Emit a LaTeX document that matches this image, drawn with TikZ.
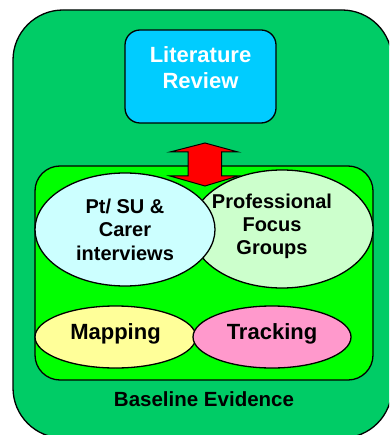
\documentclass[tikz,border=0pt]{standalone}
\usepackage{fontspec}
\setmainfont{Liberation Sans}
\usetikzlibrary{shapes.geometric}
\definecolor{outergreen}{HTML}{00CC66}
\definecolor{innergreen}{HTML}{00FF00}
\definecolor{litblue}{HTML}{00CCFF}
\definecolor{ptcyan}{HTML}{CCFFFF}
\definecolor{profgreen}{HTML}{CCFFCC}
\definecolor{mapyellow}{HTML}{FFFF99}
\definecolor{trackpink}{HTML}{FF99CC}
\tikzset{
  edge/.style={draw=black, line width=1.3pt},
  blob/.style={edge, ellipse, inner sep=0pt, align=center,
    font=\bfseries\fontsize{20}{23.5}\selectfont},
  smallblob/.style={blob, text height=10pt, text depth=6pt,
    font=\bfseries\fontsize{22}{26}\selectfont},
}
\begin{document}
\begin{tikzpicture}[x=1pt,y=-1pt]
\useasboundingbox (0,0) rectangle (389,435);
\begin{scope}
\clip (0,0) rectangle (389,435);
% outer container
\draw[edge, fill=outergreen, rounded corners=50pt] (13,10) rectangle (392,438);
\end{scope}
% literature review box
\node[edge, fill=litblue, rounded corners=15pt, minimum width=151pt, minimum height=93pt, inner sep=0pt] (lit) at (200.5,76.5) {};
\node[text=white, align=center, font=\bfseries\fontsize{22}{26}\selectfont] (littxt) at (200.5,68) {Literature\\Review};
% inner evidence box
\draw[edge, fill=innergreen, rounded corners=25pt] (35,166) rectangle (373,380);
% two-way block arrow
\draw[edge, line width=1pt, fill=red, line join=miter]
  (205,143) -- (238,152) -- (221.5,152) -- (221.5,176) -- (238,176) -- (205,186)
  -- (170,176) -- (188,176) -- (188,152) -- (170,152) -- cycle;
% evidence sources
\node[blob, fill=profgreen, minimum width=182pt, minimum height=118pt] (prof) at (282,229) {};
\node[font=\bfseries\fontsize{20}{23}\selectfont, align=center] (proftxt) at (272,226) {Professional\\Focus\\Groups};
\node[blob, fill=ptcyan, minimum width=180pt, minimum height=113pt] (pt) at (125,229.5) {Pt/ SU \&\\Carer\\interviews};
\node[smallblob, fill=mapyellow, minimum width=161pt, minimum height=62pt] (map) at (115.5,337) {Mapping};
\node[smallblob, fill=trackpink, minimum width=158pt, minimum height=62pt] (track) at (272,337) {Tracking};
\node[font=\bfseries\fontsize{20.5}{24}\selectfont] (base) at (204,399) {Baseline Evidence};
\end{tikzpicture}
\end{document}
